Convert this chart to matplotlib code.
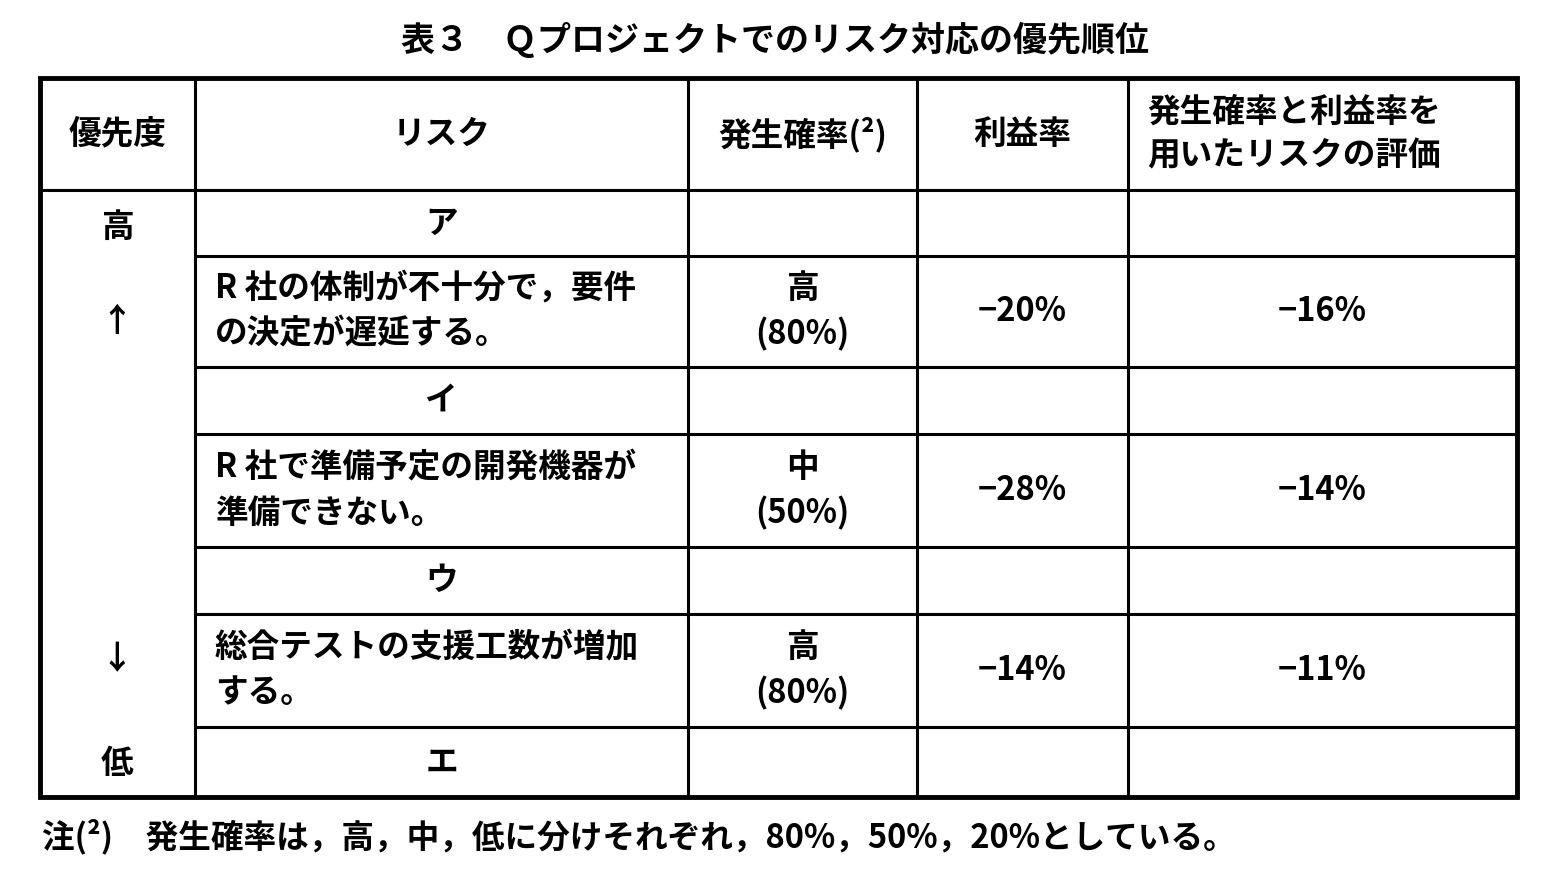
import matplotlib
matplotlib.use("Agg")
import matplotlib.pyplot as plt

plt.rcParams['font.family'] = ['Noto Sans CJK JP', 'DejaVu Sans']
plt.rcParams['font.weight'] = 'bold'

title = "表３　Ｑプロジェクトでのリスク対応の優先順位"
headers = ["優先度", "リスク", "発生確率(²)", "利益率", "発生確率と利益率を\n用いたリスクの評価"]
answer_labels = ["ア", "イ", "ウ", "エ"]
risks = ["R 社の体制が不十分で，要件\nの決定が遅延する。",
         "R 社で準備予定の開発機器が\n準備できない。",
         "総合テストの支援工数が増加\nする。"]
probs = ["高\n(80%)", "中\n(50%)", "高\n(80%)"]
profits = ["−20%", "−28%", "−14%"]
evals = ["−16%", "−14%", "−11%"]
priority_marks = ["高", "↑", "↓", "低"]
note = "注(²)　発生確率は，高，中，低に分けそれぞれ，80%，50%，20%としている。"

W, H = 1568, 884
fig = plt.figure(figsize=(W/100, H/100), dpi=100)
ax = fig.add_axes([0, 0, 1, 1])
ax.set_xlim(0, W); ax.set_ylim(H, 0); ax.axis('off')

xs = [40, 195, 688, 917, 1128, 1517]
ys = [78, 190, 256, 367, 434, 547, 614, 727, 797]
lw = 2.2
fs = 23.5

ax.add_patch(plt.Rectangle((xs[0], ys[0]), xs[-1]-xs[0], ys[-1]-ys[0], fill=False, lw=3.5, color='k'))
for x in xs[1:-1]:
    ax.plot([x, x], [ys[0], ys[-1]], color='k', lw=lw)
for y in ys[1:-1]:
    x0 = xs[0] if y == ys[1] else xs[1]
    ax.plot([x0, xs[-1]], [y, y], color='k', lw=lw)

ax.text(775, 40, title, ha='center', va='center', fontsize=fs+1)

hy = (ys[0] + ys[1]) / 2
for i, h in enumerate(headers):
    cx = (xs[i] + xs[i+1]) / 2
    if i == 4:
        ax.text(1147, hy, h, ha='left', va='center', fontsize=fs, linespacing=1.45)
    else:
        ax.text(cx, hy, h, ha='center', va='center', fontsize=fs)

for k, lab in enumerate(answer_labels):
    y = (ys[1 + 2*k] + ys[2 + 2*k]) / 2
    ax.text((xs[1] + xs[2]) / 2, y, lab, ha='center', va='center', fontsize=fs)

for k in range(3):
    y = (ys[2 + 2*k] + ys[3 + 2*k]) / 2
    ax.text(215, y, risks[k], ha='left', va='center', fontsize=fs, linespacing=1.45)
    ax.text((xs[2]+xs[3])/2, y, probs[k], ha='center', va='center', fontsize=fs, linespacing=1.45)
    ax.text((xs[3]+xs[4])/2, y, profits[k], ha='center', va='center', fontsize=fs)
    ax.text((xs[4]+xs[5])/2, y, evals[k], ha='center', va='center', fontsize=fs)

for m, y in zip(priority_marks, [227, 322, 660, 763]):
    ax.text(117, y, m, ha='center', va='center', fontsize=fs)

ax.text(42, 836, note, ha='left', va='center', fontsize=fs)

fig.savefig("out.png", dpi=100)
